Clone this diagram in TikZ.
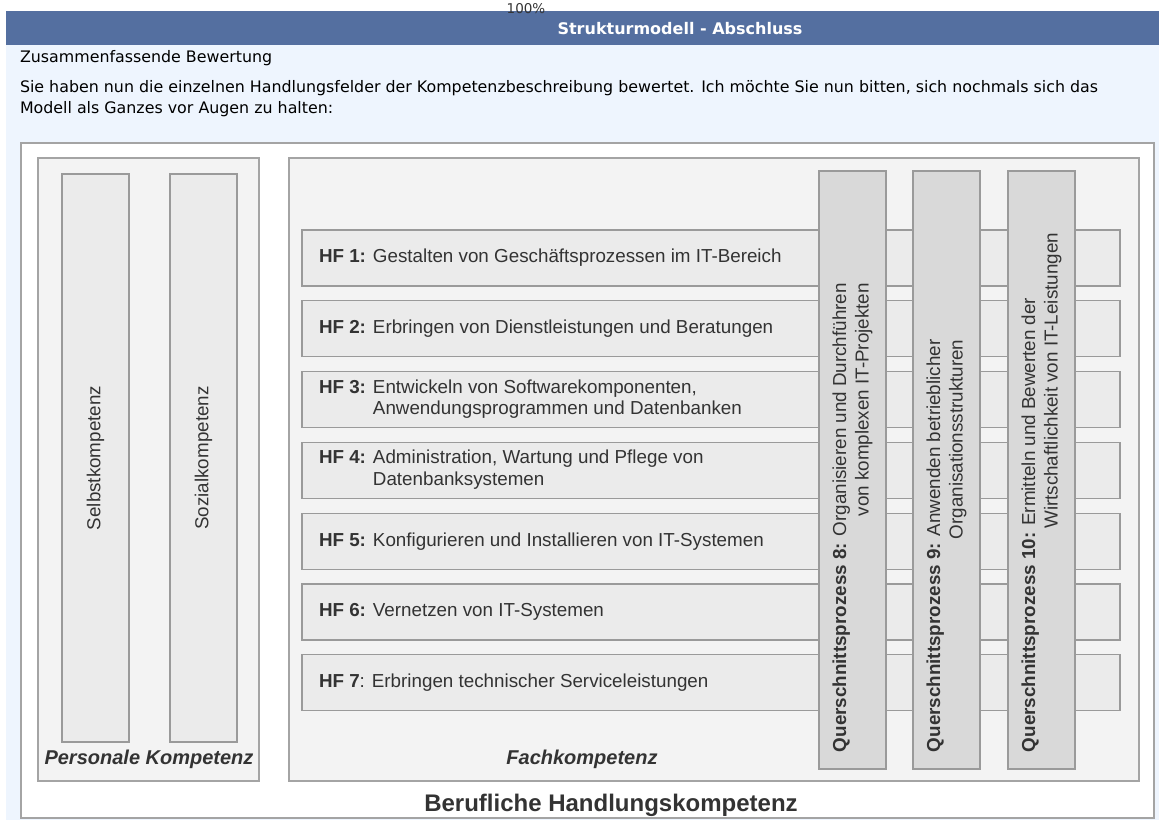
\documentclass[tikz,border=0pt]{standalone}
\usepackage{fontspec}
\setmainfont{Liberation Sans}
\newfontfamily\webfont{DejaVu Sans}
\definecolor{headblue}{HTML}{546FA0}
\definecolor{pagebg}{HTML}{EEF5FE}
\definecolor{ink}{HTML}{333333}
\definecolor{framegray}{HTML}{A4A4A4}
\definecolor{areafill}{HTML}{F3F3F3}
\definecolor{barfill}{HTML}{EBEBEB}
\definecolor{qpfill}{HTML}{D9D9D9}
\definecolor{edgegray}{HTML}{9A9A9A}
\begin{document}
\begin{tikzpicture}[x=1pt,y=-1pt,
  every node/.style={inner sep=0pt, outer sep=0pt, text=ink},
  rectbox/.style={anchor=north west, draw=framegray, line width=1.3pt},
  panel/.style={rectbox, fill=white, draw=framegray},
  area/.style={rectbox, fill=areafill, draw=framegray},
  pbar/.style={rectbox, fill=barfill, draw=edgegray, minimum width=67pt, minimum height=568pt},
  hfrow/.style={rectbox, fill=barfill, draw=edgegray, minimum width=818pt, minimum height=56pt},
  qpbar/.style={rectbox, fill=qpfill, draw=edgegray, minimum width=67pt, minimum height=598pt},
  hftext/.style={anchor=west, xshift=17pt, font=\fontsize{18.8}{21.5}\selectfont, align=left},
  qptext/.style={anchor=west, rotate=90, font=\fontsize{18.8}{22.5}\selectfont, align=right},
  ptext/.style={rotate=90, font=\fontsize{18.8}{22}\selectfont},
  grouplabel/.style={font=\fontsize{20}{24}\selectfont\bfseries\itshape},
  webtext/.style={anchor=west, font=\webfont\fontsize{15.85}{21}\selectfont, align=left, text=black}
]
\useasboundingbox (0,0) rectangle (1159,820);

% page background and title bar
\fill[pagebg] (6,45) rectangle (1159,820);
\node[anchor=north west, fill=headblue, minimum width=1153pt, minimum height=34pt] (bar) at (6,11) {};
\node[font=\webfont\fontsize{16}{18}\selectfont\bfseries, text=white] (title) at (680,29) {Strukturmodell - Abschluss};
\node[font=\webfont\fontsize{13.5}{15}\selectfont, text=ink] (zoom) at (526,9) {100\%};

% introductory text
\node[webtext] (heading) at (20,58) {Zusammenfassende Bewertung};
\node[webtext, anchor=north west] (intro) at (20,80) {Sie haben nun die einzelnen Handlungsfelder der Kompetenzbeschreibung bewertet. Ich möchte Sie nun bitten, sich nochmals sich das\\Modell als Ganzes vor Augen zu halten:};

% outer frame
\node[panel, minimum width=1133pt, minimum height=675pt] (outer) at (21,143) {};

% personal competence
\node[area, minimum width=221pt, minimum height=623pt] (personal) at (38,158) {};
\node[pbar] (selbst) at (62,174) {};
\node[pbar] (sozial) at (170,174) {};
\node[ptext] (selbsttext) at (selbst.center) {Selbstkompetenz};
\node[ptext] (sozialtext) at (sozial.center) {Sozialkompetenz};
\node[grouplabel] (personallabel) at (149,759) {Personale Kompetenz};

% professional competence
\node[area, minimum width=850pt, minimum height=623pt] (fach) at (289,158) {};
\node[hfrow] (hf1) at (302,230) {};
\node[hfrow] (hf2) at (302,300.8) {};
\node[hfrow] (hf3) at (302,371.6) {};
\node[hfrow] (hf4) at (302,442.4) {};
\node[hfrow] (hf5) at (302,513.2) {};
\node[hfrow] (hf6) at (302,584) {};
\node[hfrow] (hf7) at (302,654.8) {};
\node[hftext] (hf1text) at (hf1.west) {\textbf{HF 1:} Gestalten von Geschäftsprozessen im IT-Bereich};
\node[hftext] (hf2text) at (hf2.west) {\textbf{HF 2:} Erbringen von Dienstleistungen und Beratungen};
\node[hftext] (hf3text) at (hf3.west) {\textbf{HF 3:} \begin{tabular}[t]{@{}l@{}}Entwickeln von Softwarekomponenten,\\Anwendungsprogrammen und Datenbanken\end{tabular}};
\node[hftext] (hf4text) at (hf4.west) {\textbf{HF 4:} \begin{tabular}[t]{@{}l@{}}Administration, Wartung und Pflege von\\Datenbanksystemen\end{tabular}};
\node[hftext] (hf5text) at (hf5.west) {\textbf{HF 5:} Konfigurieren und Installieren von IT-Systemen};
\node[hftext] (hf6text) at (hf6.west) {\textbf{HF 6:} Vernetzen von IT-Systemen};
\node[hftext] (hf7text) at (hf7.west) {\textbf{HF 7}: Erbringen technischer Serviceleistungen};

% cross-sectional processes
\node[qpbar] (qp8) at (819,171) {};
\node[qpbar] (qp9) at (913,171) {};
\node[qpbar] (qp10) at (1008,171) {};
\node[qptext] (qp8text) at ([yshift=17pt]qp8.south) {\textbf{Querschnittsprozess 8:} Organisieren und Durchführen\\von komplexen IT-Projekten};
\node[qptext] (qp9text) at ([yshift=17pt]qp9.south) {\textbf{Querschnittsprozess 9:} Anwenden betrieblicher\\Organisationsstrukturen};
\node[qptext, align=left] (qp10text) at ([yshift=17pt]qp10.south) {\textbf{Querschnittsprozess 10:} Ermitteln und Bewerten der\\\makebox[519pt][r]{Wirtschaftlichkeit von IT-Leistungen}};
\node[grouplabel] (fachlabel) at (582,759) {Fachkompetenz};

% overall label
\node[font=\fontsize{24}{28}\selectfont\bfseries] (overall) at (611,805) {Berufliche Handlungskompetenz};
\end{tikzpicture}
\end{document}
